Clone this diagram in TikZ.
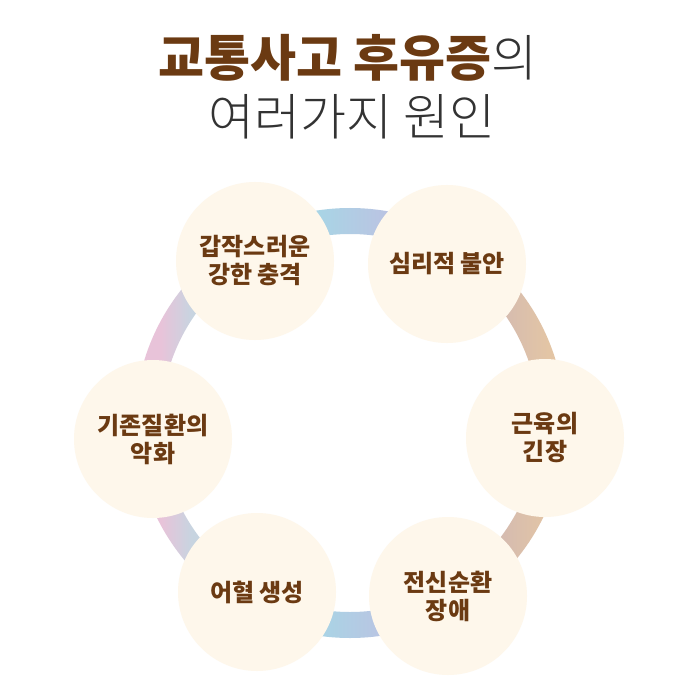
\documentclass[tikz,border=0pt]{standalone}
\usepackage{fontspec}
\usepackage{xcolor}
\usepackage{tikz}
\usetikzlibrary{positioning,calc}
\newfontfamily\cjk{Noto Sans CJK KR}
\newfontfamily\cjkheavy{Noto Sans CJK KR Black}
\newfontfamily\cjkthin{Noto Sans CJK KR Light}
\definecolor{causebrown}{HTML}{6B3A12}
\definecolor{causecream}{HTML}{FEF7EB}
\definecolor{titlegray}{HTML}{333333}
\definecolor{ringpink}{HTML}{E8C3D9}
\definecolor{ringgray}{HTML}{C8D4E0}
\definecolor{ringblue}{HTML}{A9D4E5}
\definecolor{ringlav}{HTML}{BCC2E2}
\definecolor{ringmauve}{HTML}{D6BCAF}
\definecolor{ringtan}{HTML}{E3C5A5}
\pgfdeclarehorizontalshading{ringshade}{100bp}{color(0bp)=(ringpink); color(28bp)=(ringpink);
    color(31.5bp)=(ringgray); color(46.5bp)=(ringblue); color(55bp)=(ringlav);
    color(68bp)=(ringmauve); color(73bp)=(ringtan); color(100bp)=(ringtan)}
\tikzstyle{cause} = [circle, fill=causecream, minimum size=158pt, inner sep=0pt,
    align=center, text=causebrown, font=\cjkheavy\fontsize{24}{28}\selectfont]
\tikzstyle{title} = [inner sep=0pt, font=\fontsize{50}{54}\selectfont]

\begin{document}
\begin{tikzpicture}[x=1pt, y=-1pt]
\useasboundingbox (0,0) rectangle (700,700);
\fill[white] (0,0) rectangle (700,700);

% title
\node[title, anchor=base] (head) at (348,77) {\cjkheavy\textcolor{causebrown}{교통사고 후유증}\cjkthin\textcolor{titlegray}{의}};
\node[title, anchor=base, text=titlegray] (sub) at (352,136) {\cjkthin 여러가지 원인};

% ring behind the causes
\coordinate (hub) at (350,423);
\shade[shading=ringshade, even odd rule] (hub) circle[radius=215] (hub) circle[radius=189];

% causes
\node[cause] (shock) at (255,261) {갑작스러운\\강한 충격};
\node[cause] (anxiety) at (447,264) {심리적 불안};
\node[cause] (muscle) at (545,438) {근육의\\긴장};
\node[cause] (blood) at (448,596) {전신순환\\장애};
\node[cause] (stasis) at (257,592) {어혈 생성};
\node[cause] (chronic) at (153,439) {기존질환의\\악화};
\end{tikzpicture}
\end{document}
